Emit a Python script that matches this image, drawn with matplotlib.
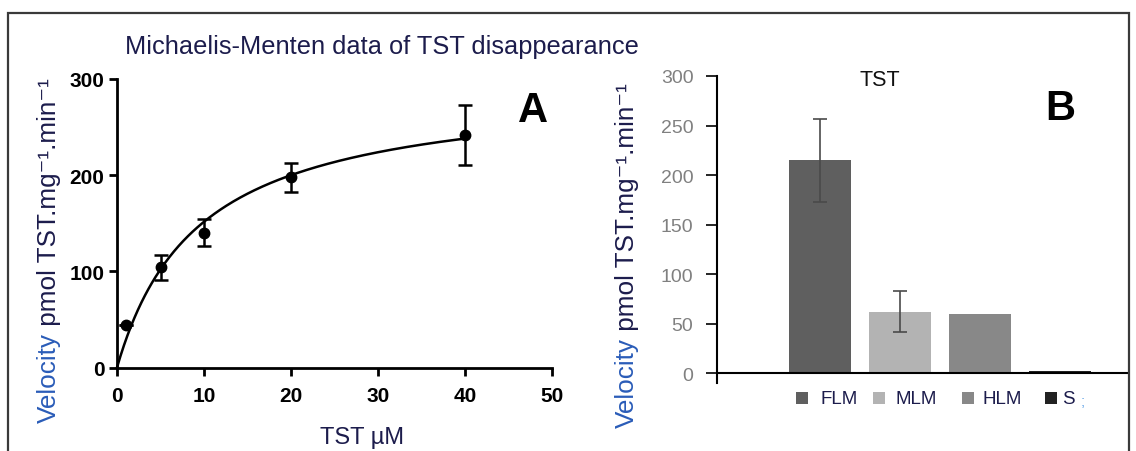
import numpy as np
import matplotlib
matplotlib.use("Agg")
import matplotlib.pyplot as plt
from matplotlib.patches import Rectangle

# ---- Panel A: Michaelis-Menten kinetics of TST disappearance ----
tst_conc = [1, 5, 10, 20, 40]            # µM
velocity = [44, 104, 140, 198, 242]      # pmol TST.mg-1.min-1
velocity_sd = [0, 13, 14, 15, 31]

# fitted Michaelis-Menten parameters
vmax = 294.0
km = 9.4

# ---- Panel B: velocity by microsome source ----
sources = ["FLM", "MLM", "HLM", "S"]
source_velocity = [215, 62, 60, 2.5]
source_sd = [42, 21, 0, 0]
source_colors = ["#5f5f5f", "#b3b3b3", "#888888", "#222222"]

W, H = 1136, 452
fig = plt.figure(figsize=(W / 100, H / 100), dpi=100)
plt.rcParams["font.family"] = ["Liberation Sans", "DejaVu Sans"]

NAVY = "#1c1c4c"
BLUE = "#2a5cb8"


def px_axes(left, top, right, bottom):
    return fig.add_axes([left / W, 1 - bottom / H, (right - left) / W, (bottom - top) / H])


# outer frame
fig.add_artist(Rectangle((8 / W, -0.2), (1129 - 8) / W, 1.2 - 14 / H,
                         transform=fig.transFigure, fill=False,
                         edgecolor="#3a3a3a", linewidth=1.6, clip_on=False))

# ---------------- Panel A ----------------
axA = px_axes(117, 80, 552, 368.5)
xs = np.linspace(0, 40, 300)
axA.plot(xs, vmax * xs / (km + xs), color="black", lw=1.8, clip_on=False)
axA.errorbar(tst_conc, velocity, yerr=velocity_sd, fmt="o", color="black",
             ms=7.5, elinewidth=1.8, capsize=5, capthick=1.8, clip_on=False)
axA.set_xlim(0, 50)
axA.set_ylim(0, 300)
axA.set_xticks([0, 10, 20, 30, 40, 50])
axA.set_yticks([0, 100, 200, 300])
for s in ("top", "right"):
    axA.spines[s].set_visible(False)
for s in ("left", "bottom"):
    axA.spines[s].set_linewidth(2)
axA.tick_params(direction="out", length=6, width=2, labelsize=15)
axA.tick_params(axis="x", pad=7)
axA.tick_params(axis="y", pad=3)
for lab in axA.get_xticklabels() + axA.get_yticklabels():
    lab.set_fontweight("bold")
fig.text(362 / W, 1 - 438 / H, "TST µM", fontsize=17, color=NAVY,
         ha="center", va="center")
fig.text(533 / W, 1 - 111 / H, "A", fontsize=30, fontweight="bold",
         ha="center", va="center")
fig.text(382 / W, 1 - 47 / H, "Michaelis-Menten data of TST disappearance",
         fontsize=18.3, color=NAVY, ha="center", va="center")

# ---------------- Panel B ----------------
axB = px_axes(717, 77, 1128, 384)
pos = np.arange(len(sources))
bars = axB.bar(pos, source_velocity, width=0.78, color=source_colors,
               label=sources, zorder=2)
for p, v, e in zip(pos, source_velocity, source_sd):
    if e > 0:
        axB.errorbar(p, v, yerr=e, fmt="none", ecolor="#4a4a4a",
                     elinewidth=1.2, capsize=5, capthick=1.2, zorder=3)
axB.set_xlim(-1.2875, 3.85)
axB.set_ylim(-10, 300)
axB.axhline(0, color="black", lw=1.5, zorder=4)
axB.set_yticks(range(0, 301, 50))
axB.set_xticks([])
for s in ("top", "right", "bottom"):
    axB.spines[s].set_visible(False)
axB.spines["left"].set_linewidth(1.5)
axB.tick_params(axis="y", direction="out", length=8, width=1.2,
                labelsize=14, labelcolor="#808080", pad=9)
axB.text(0.75, 296, "TST", fontsize=15.5, ha="center", va="center", color="#111111")
fig.text(1060 / W, 1 - 109 / H, "B", fontsize=30, fontweight="bold",
         ha="center", va="center")

# legend row under the bars: (square left edge, label left edge) in pixels
legend_slots = [(796, 821), (873, 896), (962, 983), (1045, 1062)]
sq = 12
for (sq_x, tx_x), name, col in zip(legend_slots, sources, source_colors):
    fig.add_artist(Rectangle((sq_x / W, 1 - (399 + sq / 2) / H), sq / W, sq / H,
                             transform=fig.transFigure, facecolor=col,
                             edgecolor="none"))
    fig.text(tx_x / W, 1 - 400 / H, name, fontsize=13.5, color=NAVY,
             ha="left", va="center")
fig.text(1083 / W, 1 - 402 / H, ";", fontsize=11, color="#6aa8e8",
         ha="center", va="center")


# ---------------- two-colour rotated y labels ----------------
def ylabel_two_tone(x_px, y_bottom_px, size):
    renderer = fig.canvas.get_renderer()
    first = fig.text(x_px / W, 1 - y_bottom_px / H, "Velocity", rotation=90,
                     rotation_mode="anchor", ha="left", va="baseline",
                     fontsize=size, color=BLUE)
    ext = first.get_window_extent(renderer)
    second = fig.text(x_px / W, 1 - y_bottom_px / H + ext.height / H,
                      " pmol TST.mg\u207b\u00b9.min\u207b\u00b9",
                      rotation=90, rotation_mode="anchor", ha="left",
                      va="baseline", fontsize=size, color=NAVY)
    return first, second


fig.canvas.draw()
ylabel_two_tone(56, 423, 18.8)
ylabel_two_tone(634, 428, 18.8)

fig.savefig("out.png", dpi=100)
